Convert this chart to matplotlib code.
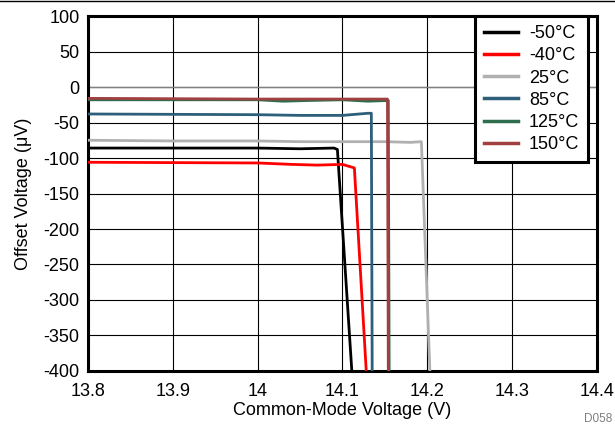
import matplotlib
matplotlib.use("Agg")
import matplotlib.pyplot as plt
from matplotlib.lines import Line2D

plt.rcParams['font.family'] = ['Liberation Sans', 'DejaVu Sans']
plt.rcParams['axes.unicode_minus'] = False

labels = ['-50°C', '-40°C', '25°C', '85°C', '125°C', '150°C']
colors = ['#000000', '#ff0000', '#b0b0b0', '#2d5f7a', '#2e6e4e', '#a04040']

x_m50 = [13.8, 14.0, 14.05, 14.09, 14.094, 14.111]
y_m50 = [-86, -86, -87, -86, -88, -400]
x_m40 = [13.8, 14.0, 14.04, 14.07, 14.1, 14.114, 14.128]
y_m40 = [-106, -107, -109, -110, -109, -114, -400]
x_25 = [13.8, 13.9, 14.0, 14.05, 14.1, 14.15, 14.18, 14.193, 14.203]
y_25 = [-75, -76, -76, -77, -77, -77, -78, -77, -400]
x_85 = [13.8, 14.0, 14.05, 14.1, 14.13, 14.134, 14.135]
y_85 = [-38, -39, -40, -40, -37, -37, -400]
x_125 = [13.8, 14.0, 14.03, 14.06, 14.1, 14.13, 14.154, 14.155]
y_125 = [-18, -18, -20, -19, -18, -20, -19, -400]
x_150 = [13.8, 14.0, 14.05, 14.1, 14.13, 14.153, 14.154]
y_150 = [-16, -17, -17, -17, -17, -17, -400]

series = [(x_m50, y_m50), (x_m40, y_m40), (x_25, y_25), (x_85, y_85), (x_125, y_125), (x_150, y_150)]

xticks = [13.8, 13.9, 14.0, 14.1, 14.2, 14.3, 14.4]
xticklabels = ['13.8', '13.9', '14', '14.1', '14.2', '14.3', '14.4']
yticks = list(range(-400, 101, 50))

fig = plt.figure(figsize=(6.15, 4.29), dpi=100)
ax = fig.add_axes([0.1431, 0.1352, 0.8276, 0.8275])

ax.set_xlim(13.8, 14.4)
ax.set_ylim(-400, 100)
ax.set_xticks(xticks)
ax.set_xticklabels(xticklabels)
ax.set_yticks(yticks)
ax.grid(True, color='black', linewidth=0.8)
ax.axhline(0, color='#808080', linewidth=1.0, zorder=1.5)
ax.set_axisbelow(True)

for (xs, ys), c, lab in zip(series, colors, labels):
    ax.plot(xs, ys, color=c, linewidth=2.0, label=lab, zorder=3)

for s in ax.spines.values():
    s.set_linewidth(2.2)
ax.tick_params(axis='both', labelsize=13, length=0)
ax.tick_params(axis='x', pad=9)
ax.tick_params(axis='y', pad=6)
ax.set_xlabel('Common-Mode Voltage (V)', fontsize=13, labelpad=1)
ax.set_ylabel('Offset Voltage (\u03bcV)', fontsize=13, labelpad=8)

leg = ax.legend(loc='upper right', bbox_to_anchor=(0.983, 1.0), fontsize=13,
                frameon=True, fancybox=False, borderpad=0.5, labelspacing=0.29,
                handlelength=1.9, handletextpad=0.6, borderaxespad=0.0)
leg.get_frame().set_edgecolor('black')
leg.get_frame().set_linewidth(2.2)
leg.get_frame().set_alpha(1.0)
for h in leg.get_lines():
    h.set_linewidth(2.5)

fig.add_artist(Line2D([0, 1], [0.998, 0.998], color='black', linewidth=1.0))
fig.text(0.995, 0.01, 'D058', fontsize=8.5, color='#808080', ha='right', va='bottom')

fig.savefig('out.png', dpi=100)
